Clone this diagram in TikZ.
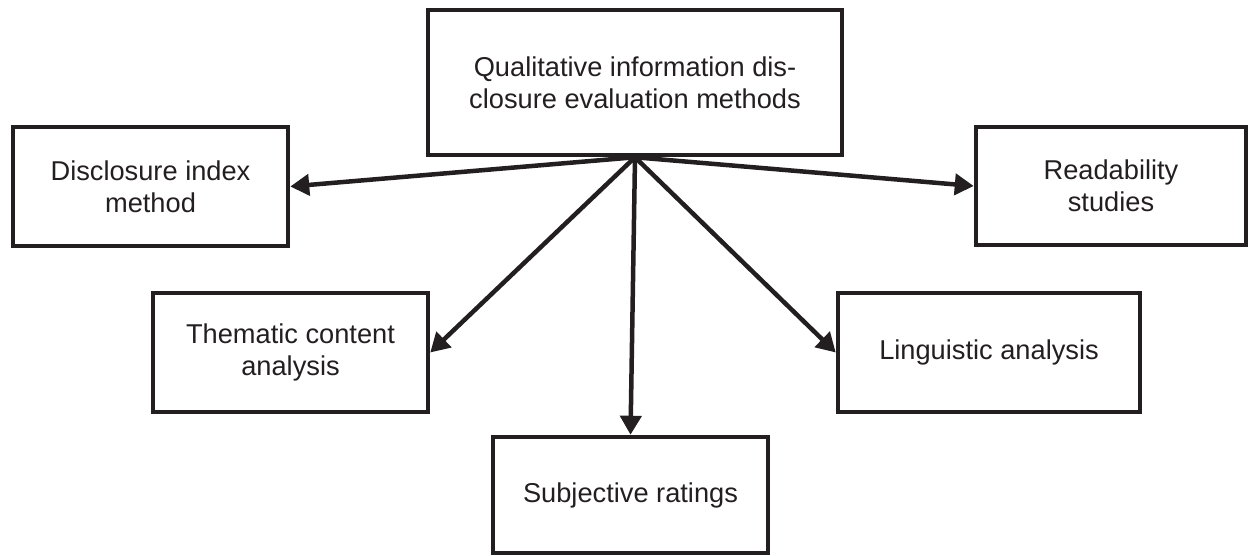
\documentclass[tikz,border=0pt]{standalone}
\usepackage{fontspec}
\setmainfont{Liberation Sans}
\usetikzlibrary{arrows.meta}
\definecolor{ink}{HTML}{231F20}
\begin{document}
\begin{tikzpicture}[
        box/.style={draw=ink, text=ink, line width=0.09cm, align=center, inner sep=0pt,
            font=\fontsize{15.5}{18}\selectfont},
        link/.style={draw=ink, line width=0.09cm, -{Triangle[length=0.38cm, width=0.42cm]}}]
    % Frame
    \useasboundingbox (0,0) rectangle (24.98,11.1);

    % Boxes
    \node[box, minimum width=8.28cm, minimum height=2.9cm] (eval) at (12.7,9.45)
        {Qualitative information dis-\\closure evaluation methods};
    \node[box, minimum width=5.5cm, minimum height=2.38cm] (index) at (3.01,7.37)
        {Disclosure index\\method};
    \node[box, minimum width=5.4cm, minimum height=2.36cm] (read) at (22.22,7.38)
        {Readability\\studies};
    \node[box, minimum width=5.5cm, minimum height=2.38cm] (theme) at (5.81,4.05)
        {Thematic content\\analysis};
    \node[box, minimum width=6.04cm, minimum height=2.38cm] (ling) at (19.78,4.05)
        {Linguistic analysis};
    \node[box, minimum width=5.5cm, minimum height=2.32cm] (subj) at (12.61,1.2)
        {Subjective ratings};

    % Arrows
    \coordinate (hub) at (eval.south);
    \draw[link] (hub) -- (index.east);
    \draw[link] (hub) -- (read.west);
    \draw[link] (hub) -- (theme.east);
    \draw[link] (hub) -- (ling.west);
    \draw[link] (hub) -- (subj.north);
\end{tikzpicture}
\end{document}
